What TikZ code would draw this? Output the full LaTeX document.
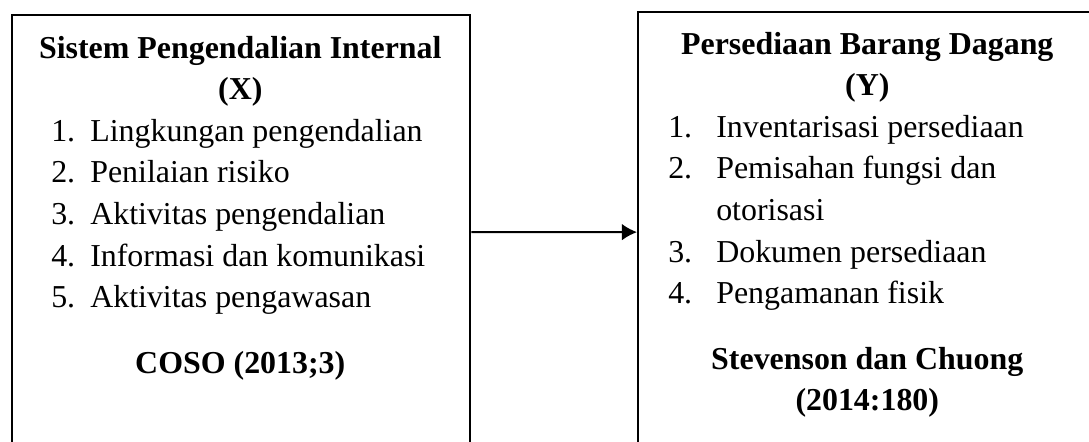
\documentclass[tikz,border=0pt]{standalone}
\usepackage{fontspec}
\setmainfont{Liberation Serif}
\usetikzlibrary{arrows.meta}
\newcommand{\lnum}[1]{\hspace*{1.0cm}\makebox[0.975cm][l]{#1}}
\newcommand{\rnum}[1]{\hspace*{0.775cm}\makebox[1.2cm][l]{#1}}

\begin{document}
\begin{tikzpicture}[
    box/.style={draw,line width=1.6pt,anchor=north west,inner sep=0pt},
    boxtext/.style={anchor=base west,inner sep=0pt}]
      \clip (0cm,0cm) rectangle (27.225cm,-11.025cm);
      \node [box,minimum width=11.45cm,minimum height=10.85cm]
        (spi) at (0.275cm,-0.35cm) {};
      \node [box,minimum width=11.6cm,minimum height=11cm]
        (pbd) at (15.925cm,-0.275cm) {};
      \node [boxtext] (spitext) at (0.275cm,-1.45cm) {%
          \begin{minipage}[t]{11.45cm}
            \fontsize{22.7pt}{29.6pt}\selectfont
            \centering\textbf{Sistem Pengendalian Internal}              \\
            \textbf{(X)}                                                 \\
            \raggedright
            \lnum{1.}Lingkungan pengendalian                             \\
            \lnum{2.}Penilaian risiko                                    \\
            \lnum{3.}Aktivitas pengendalian                              \\
            \lnum{4.}Informasi dan komunikasi                            \\
            \lnum{5.}Aktivitas pengawasan                                \\[17pt]
            \centering\textbf{COSO (2013;3)}
          \end{minipage}};
      \node [boxtext] (pbdtext) at (15.925cm,-1.35cm) {%
          \begin{minipage}[t]{11.5cm}
            \fontsize{22.7pt}{29.6pt}\selectfont
            \centering\textbf{Persediaan Barang Dagang}                  \\
            \textbf{(Y)}                                                 \\
            \raggedright
            \rnum{1.}Inventarisasi persediaan                            \\
            \rnum{2.}Pemisahan fungsi dan                                \\
            \hspace*{1.975cm}otorisasi                                   \\
            \rnum{3.}Dokumen persediaan                                  \\
            \rnum{4.}Pengamanan fisik                                    \\[17pt]
            \centering\textbf{Stevenson dan Chuong}                      \\
            \textbf{(2014:180)}
          \end{minipage}};
      \draw [line width=1.4pt,-{Latex[length=3.8mm,width=4.2mm]}] (spi.east) -- (pbd.west);
    \end{tikzpicture}
\end{document}
